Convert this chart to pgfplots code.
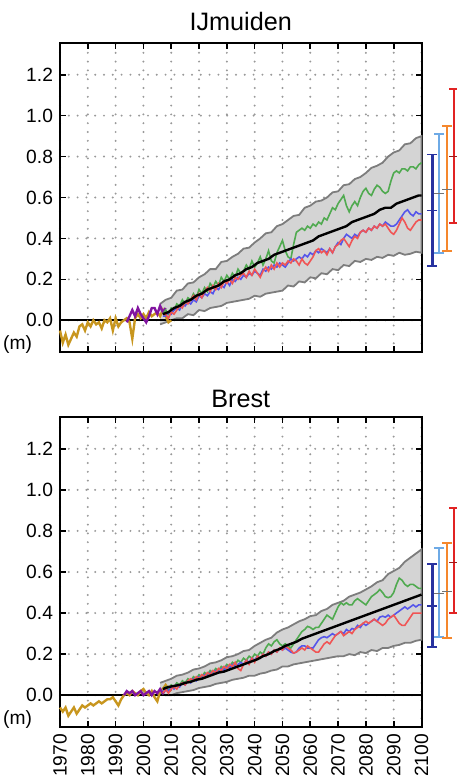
\documentclass[border=0pt]{standalone}
\usepackage{pgfplots}
\pgfplotsset{compat=1.18}
\usepackage{pgfplotstable}
\usepackage{fontspec}
\setmainfont{Liberation Sans}

\definecolor{obsgold}{RGB}{200,150,30}
\definecolor{altpurple}{RGB}{130,20,160}
\definecolor{pgreen}{RGB}{80,170,80}
\definecolor{pblue}{RGB}{85,85,235}
\definecolor{pred}{RGB}{240,85,85}
\definecolor{bandfill}{RGB}{212,212,212}
\definecolor{bandedge}{RGB}{125,125,125}
\definecolor{ebdark}{RGB}{40,50,160}
\definecolor{eblight}{RGB}{110,170,230}
\definecolor{eborange}{RGB}{245,135,45}
\definecolor{ebred}{RGB}{225,35,35}

% ---------------- IJmuiden ----------------
\pgfplotstableread{
year val
1970 -0.05
1971 -0.11
1972 -0.07
1973 -0.12
1974 -0.09
1975 -0.06
1976 -0.08
1977 -0.03
1978 -0.02
1979 -0.05
1980 -0.01
1981 -0.03
1982 0.00
1983 -0.02
1984 -0.01
1985 -0.04
1986 0.00
1987 -0.01
1988 0.01
1989 -0.05
1990 0.01
1991 -0.03
1992 -0.01
1993 0.00
1994 0.01
1995 -0.01
1996 -0.09
1997 0.01
1998 0.03
1999 0.01
2000 0.03
2001 0.01
2002 0.04
2003 0.02
2004 0.03
2005 0.04
2006 0.02
2007 0.05
2008 0.02
2009 -0.01
2010 0.00
}\obsA
\pgfplotstableread{
year val
1994 -0.01
1995 0.02
1996 0.05
1997 0.02
1998 0.06
1999 0.03
2000 0.01
2001 -0.01
2002 0.02
2003 0.06
2004 0.06
2005 0.03
2006 0.07
2007 0.04
2008 0.06
}\altA
% likely-range envelope: upper edge forward, lower edge backward
\pgfplotstableread{
year val
2006 0.08
2008 0.10
2010 0.11
2012 0.145
2014 0.15
2016 0.18
2018 0.185
2020 0.21
2022 0.225
2024 0.25
2026 0.25
2028 0.285
2030 0.29
2032 0.31
2034 0.325
2036 0.35
2038 0.355
2040 0.38
2042 0.40
2044 0.425
2046 0.43
2048 0.46
2050 0.47
2052 0.49
2054 0.51
2056 0.515
2058 0.55
2060 0.56
2062 0.58
2064 0.585
2066 0.60
2068 0.625
2070 0.63
2072 0.66
2074 0.665
2076 0.69
2078 0.70
2080 0.72
2082 0.745
2084 0.755
2086 0.77
2088 0.80
2090 0.82
2092 0.83
2094 0.86
2096 0.865
2098 0.89
2100 0.90
2100 0.33
2098 0.335
2096 0.325
2094 0.32
2092 0.33
2090 0.315
2088 0.32
2086 0.305
2084 0.31
2082 0.295
2080 0.30
2078 0.285
2076 0.29
2074 0.265
2072 0.27
2070 0.245
2068 0.25
2066 0.225
2064 0.23
2062 0.205
2060 0.21
2058 0.185
2056 0.19
2054 0.165
2052 0.17
2050 0.145
2048 0.14
2046 0.135
2044 0.13
2042 0.115
2040 0.12
2038 0.105
2036 0.10
2034 0.095
2032 0.09
2030 0.085
2028 0.07
2026 0.065
2024 0.06
2022 0.045
2020 0.05
2018 0.025
2016 0.03
2014 0.01
2012 0.01
2010 0.00
2008 -0.01
2006 -0.02
}\bandA
\pgfplotstableread{
year val
2007 0.03
2009 0.04
2011 0.06
2013 0.07
2015 0.09
2017 0.10
2019 0.12
2021 0.13
2023 0.15
2025 0.16
2027 0.17
2029 0.19
2031 0.20
2033 0.22
2035 0.23
2037 0.25
2039 0.26
2041 0.28
2043 0.29
2045 0.30
2047 0.32
2049 0.33
2051 0.34
2053 0.35
2055 0.36
2057 0.37
2059 0.38
2061 0.39
2063 0.41
2065 0.42
2067 0.43
2069 0.44
2071 0.45
2073 0.46
2075 0.48
2077 0.49
2079 0.50
2081 0.51
2083 0.52
2085 0.54
2087 0.55
2089 0.55
2091 0.57
2093 0.58
2095 0.59
2097 0.60
2099 0.61
2100 0.61
}\meanA
\pgfplotstableread{
year g b r
2007 0.03 0.02 0.03
2008 0.05 0.02 0.03
2009 0.03 0.04 0.01
2010 0.06 0.03 0.04
2011 0.05 0.05 0.03
2012 0.08 0.06 0.05
2013 0.07 0.05 0.07
2014 0.10 0.08 0.06
2015 0.08 0.07 0.09
2016 0.11 0.09 0.08
2017 0.10 0.08 0.10
2018 0.13 0.10 0.12
2019 0.11 0.09 0.10
2020 0.15 0.12 0.13
2021 0.13 0.11 0.11
2022 0.16 0.13 0.14
2023 0.14 0.12 0.16
2024 0.18 0.14 0.14
2025 0.16 0.13 0.17
2026 0.19 0.16 0.15
2027 0.17 0.15 0.18
2028 0.21 0.17 0.16
2029 0.19 0.16 0.19
2030 0.22 0.19 0.18
2031 0.20 0.17 0.20
2032 0.23 0.20 0.18
2033 0.21 0.19 0.21
2034 0.25 0.21 0.20
2035 0.23 0.20 0.22
2036 0.24 0.22 0.23
2037 0.27 0.21 0.21
2038 0.25 0.23 0.24
2039 0.29 0.22 0.22
2040 0.26 0.24 0.25
2041 0.28 0.23 0.23
2042 0.31 0.22 0.21
2043 0.27 0.25 0.24
2044 0.30 0.24 0.26
2045 0.34 0.26 0.24
2046 0.29 0.25 0.27
2047 0.28 0.27 0.25
2048 0.33 0.26 0.28
2049 0.36 0.28 0.26
2050 0.39 0.27 0.28
2051 0.34 0.26 0.27
2052 0.31 0.28 0.29
2053 0.30 0.30 0.28
2054 0.37 0.29 0.30
2055 0.43 0.30 0.29
2056 0.44 0.31 0.27
2057 0.45 0.30 0.30
2058 0.44 0.32 0.28
2059 0.46 0.31 0.27
2060 0.45 0.33 0.29
2061 0.47 0.32 0.31
2062 0.46 0.34 0.34
2063 0.48 0.33 0.35
2064 0.47 0.35 0.33
2065 0.50 0.34 0.34
2066 0.49 0.33 0.32
2067 0.52 0.35 0.35
2068 0.55 0.33 0.33
2069 0.54 0.36 0.36
2070 0.57 0.38 0.37
2071 0.59 0.37 0.39
2072 0.61 0.40 0.40
2073 0.56 0.42 0.38
2074 0.53 0.41 0.36
2075 0.56 0.40 0.39
2076 0.58 0.42 0.41
2077 0.56 0.41 0.40
2078 0.60 0.43 0.43
2079 0.63 0.44 0.44
2080 0.645 0.43 0.43
2081 0.62 0.45 0.45
2082 0.61 0.44 0.44
2083 0.64 0.46 0.46
2084 0.66 0.45 0.45
2085 0.65 0.47 0.47
2086 0.63 0.46 0.46
2087 0.62 0.48 0.47
2088 0.63 0.47 0.45
2089 0.68 0.46 0.43
2090 0.72 0.46 0.42
2091 0.73 0.47 0.44
2092 0.72 0.49 0.47
2093 0.74 0.51 0.50
2094 0.74 0.53 0.48
2095 0.73 0.54 0.45
2096 0.75 0.52 0.44
2097 0.75 0.51 0.46
2098 0.74 0.53 0.48
2099 0.76 0.52 0.49
2100 0.77 0.52 0.49
}\projA

% ---------------- Brest ----------------
\pgfplotstableread{
year val
1970 -0.06
1971 -0.08
1972 -0.06
1973 -0.10
1974 -0.08
1975 -0.06
1976 -0.09
1977 -0.07
1978 -0.05
1979 -0.06
1980 -0.05
1981 -0.04
1982 -0.05
1983 -0.04
1984 -0.03
1985 -0.04
1986 -0.03
1987 -0.02
1988 -0.02
1989 -0.01
1990 -0.03
1991 -0.05
1992 -0.02
1993 0.00
1994 0.01
1995 0.00
1996 0.02
1997 0.01
1998 0.00
1999 0.02
2000 0.03
2001 0.01
2002 0.00
2003 0.02
2004 -0.01
2005 -0.03
2006 0.02
2007 0.03
2008 0.05
2009 0.03
2010 0.02
}\obsB
\pgfplotstableread{
year val
1993 0.00
1994 0.02
1995 0.01
1996 0.02
1997 0.00
1998 0.01
1999 0.02
2000 0.00
2001 0.01
2002 0.02
2003 0.00
2004 0.02
2005 0.01
2006 0.03
2007 0.01
2008 0.03
2009 0.02
2010 0.03
}\altB
\pgfplotstableread{
year val
2006 0.06
2008 0.07
2010 0.08
2012 0.095
2014 0.10
2016 0.11
2018 0.125
2020 0.13
2022 0.14
2024 0.155
2026 0.16
2028 0.17
2030 0.185
2032 0.19
2034 0.20
2036 0.215
2038 0.22
2040 0.24
2042 0.255
2044 0.27
2046 0.28
2048 0.305
2050 0.32
2052 0.33
2054 0.345
2056 0.36
2058 0.37
2060 0.385
2062 0.39
2064 0.41
2066 0.42
2068 0.44
2070 0.45
2072 0.46
2074 0.48
2076 0.49
2078 0.50
2080 0.515
2082 0.53
2084 0.55
2086 0.56
2088 0.59
2090 0.605
2092 0.62
2094 0.65
2096 0.67
2098 0.69
2100 0.71
2100 0.27
2098 0.265
2096 0.255
2094 0.255
2092 0.245
2090 0.24
2088 0.23
2086 0.23
2084 0.215
2082 0.22
2080 0.205
2078 0.21
2076 0.195
2074 0.20
2072 0.19
2070 0.19
2068 0.185
2066 0.18
2064 0.175
2062 0.17
2060 0.165
2058 0.16
2056 0.155
2054 0.15
2052 0.14
2050 0.14
2048 0.125
2046 0.12
2044 0.11
2042 0.105
2040 0.095
2038 0.095
2036 0.085
2034 0.08
2032 0.075
2030 0.065
2028 0.06
2026 0.055
2024 0.045
2022 0.04
2020 0.035
2018 0.025
2016 0.02
2014 0.015
2012 0.01
2010 0.00
2008 0.00
2006 0.01
}\bandB
\pgfplotstableread{
year val
2007 0.03
2009 0.04
2011 0.045
2013 0.05
2015 0.06
2017 0.065
2019 0.075
2021 0.08
2023 0.09
2025 0.10
2027 0.11
2029 0.115
2031 0.125
2033 0.135
2035 0.145
2037 0.155
2039 0.165
2041 0.175
2043 0.19
2045 0.20
2047 0.215
2049 0.225
2051 0.24
2053 0.25
2055 0.26
2057 0.275
2059 0.285
2061 0.295
2063 0.305
2065 0.315
2067 0.325
2069 0.335
2071 0.345
2073 0.355
2075 0.365
2077 0.375
2079 0.385
2081 0.395
2083 0.405
2085 0.415
2087 0.425
2089 0.435
2091 0.445
2093 0.455
2095 0.465
2097 0.475
2099 0.485
2100 0.49
}\meanB
\pgfplotstableread{
year g b r
2007 0.02 0.02 0.01
2008 0.04 0.03 0.03
2009 0.03 0.02 0.01
2010 0.05 0.04 0.03
2011 0.04 0.03 0.04
2012 0.06 0.05 0.03
2013 0.05 0.04 0.05
2014 0.07 0.06 0.06
2015 0.06 0.05 0.05
2016 0.08 0.07 0.07
2017 0.07 0.06 0.08
2018 0.09 0.08 0.07
2019 0.08 0.07 0.09
2020 0.10 0.09 0.08
2021 0.09 0.08 0.10
2022 0.11 0.10 0.09
2023 0.10 0.09 0.11
2024 0.12 0.11 0.10
2025 0.11 0.10 0.12
2026 0.13 0.12 0.11
2027 0.12 0.11 0.13
2028 0.14 0.13 0.12
2029 0.13 0.12 0.14
2030 0.15 0.14 0.13
2031 0.14 0.13 0.15
2032 0.16 0.15 0.14
2033 0.15 0.14 0.16
2034 0.17 0.15 0.13
2035 0.16 0.16 0.12
2036 0.18 0.15 0.15
2037 0.17 0.17 0.17
2038 0.19 0.16 0.15
2039 0.18 0.18 0.18
2040 0.20 0.17 0.16
2041 0.19 0.19 0.19
2042 0.21 0.18 0.18
2043 0.20 0.20 0.20
2044 0.23 0.19 0.19
2045 0.25 0.21 0.21
2046 0.24 0.20 0.20
2047 0.26 0.22 0.22
2048 0.27 0.21 0.21
2049 0.25 0.23 0.23
2050 0.24 0.22 0.22
2051 0.25 0.23 0.24
2052 0.24 0.22 0.23
2053 0.23 0.21 0.22
2054 0.25 0.205 0.205
2055 0.27 0.21 0.21
2056 0.29 0.23 0.22
2057 0.31 0.24 0.23
2058 0.32 0.24 0.22
2059 0.335 0.23 0.24
2060 0.33 0.23 0.23
2061 0.32 0.23 0.22
2062 0.33 0.25 0.21
2063 0.33 0.27 0.21
2064 0.35 0.28 0.23
2065 0.37 0.285 0.25
2066 0.39 0.28 0.26
2067 0.38 0.29 0.25
2068 0.37 0.30 0.27
2069 0.40 0.29 0.29
2070 0.43 0.30 0.30
2071 0.45 0.31 0.31
2072 0.44 0.30 0.29
2073 0.45 0.32 0.30
2074 0.44 0.31 0.31
2075 0.44 0.325 0.30
2076 0.46 0.32 0.32
2077 0.47 0.34 0.33
2078 0.46 0.33 0.34
2079 0.45 0.35 0.35
2080 0.44 0.34 0.36
2081 0.46 0.35 0.35
2082 0.48 0.36 0.36
2083 0.49 0.37 0.37
2084 0.50 0.36 0.36
2085 0.515 0.38 0.35
2086 0.50 0.385 0.34
2087 0.48 0.38 0.35
2088 0.475 0.39 0.37
2089 0.48 0.38 0.38
2090 0.50 0.39 0.39
2091 0.54 0.40 0.37
2092 0.57 0.41 0.35
2093 0.56 0.42 0.34
2094 0.54 0.43 0.34
2095 0.53 0.42 0.36
2096 0.54 0.43 0.38
2097 0.54 0.44 0.40
2098 0.53 0.43 0.40
2099 0.52 0.44 0.40
2100 0.52 0.44 0.40
}\projB

\pgfplotsset{
  slr/.style={
    scale only axis, width=180.75pt,
    xmin=1970, xmax=2100, ymin=-0.155, ymax=1.355,
    xtick={1970,1980,...,2100},
    ytick={0,0.2,0.4,0.6,0.8,1.0,1.2},
    grid=major,
    major grid style={gray!80, line width=1.1pt, line cap=round, dash pattern=on 0pt off 4.4pt},
    tick align=inside, major tick length=3pt,
    axis line style={line width=1pt},
    major tick style={black, line width=0.8pt},
    xticklabel style={/pgf/number format/1000 sep={}},
    yticklabel style={/pgf/number format/fixed, /pgf/number format/fixed zerofill, /pgf/number format/precision=1},
    /pgf/number format/assume math mode=true,
    ticklabel style={font=\fontsize{9.6}{11}\selectfont},
    clip=false,
  },
  bandedgestyle/.style={draw=bandedge, line width=0.9pt},
  sser/.style={line width=0.8pt},
  rangebar/.style={mark=-, mark size=2.5pt, mark options={solid, line width=0.9pt}},
  midmark/.style={only marks, mark=-, mark size=2.5pt, mark options={line width=0.7pt}},
}

\begin{document}
\begin{tikzpicture}
\useasboundingbox (0,0) rectangle (228pt,-389.5pt);

% ===== IJmuiden =====
\begin{axis}[slr, height=154.5pt, at={(30pt,-176pt)}, anchor=south west,
  xticklabels={},
  title={IJmuiden},
  title style={font=\fontsize{12.6}{14}\selectfont, at={(0.5,1)}, anchor=base, yshift=0pt}]
  \addplot[fill=bandfill, bandedgestyle] table[x=year, y=val] {\bandA};
  \addplot[black, line width=1pt] coordinates {(1970,0) (2100,0)};
  \addplot[obsgold, line width=1.2pt] table[x=year, y=val] {\obsA};
  \addplot[altpurple, line width=1.2pt] table[x=year, y=val] {\altA};
  \addplot[pgreen, sser] table[x=year, y=g] {\projA};
  \addplot[pblue, sser] table[x=year, y=b] {\projA};
  \addplot[pred, sser] table[x=year, y=r] {\projA};
  \addplot[black, line width=1.2pt] table[x=year, y=val] {\meanA};
  % likely ranges at 2100
  \addplot[ebdark, line width=1.5pt, rangebar] coordinates {(2103.8,0.265) (2103.8,0.81)};
  \addplot[ebdark, midmark] coordinates {(2103.8,0.535)};
  \addplot[eblight, line width=1pt, rangebar] coordinates {(2106.3,0.33) (2106.3,0.91)};
  \addplot[black!55, midmark] coordinates {(2106.3,0.62)};
  \addplot[eborange, line width=1pt, rangebar] coordinates {(2109.2,0.34) (2109.2,0.95)};
  \addplot[black!55, midmark] coordinates {(2109.2,0.64)};
  \addplot[ebred, line width=1pt, rangebar] coordinates {(2111.6,0.475) (2111.6,1.13)};
  \addplot[ebred!70!black, midmark] coordinates {(2111.6,0.80)};
  \node[anchor=east, font=\fontsize{9.6}{11}\selectfont, xshift=-10.5pt] at (axis cs:1970,-0.12) {(m)};
\end{axis}

% ===== Brest =====
\begin{axis}[slr, height=155pt, at={(30pt,-363.5pt)}, anchor=south west,
  xticklabel style={rotate=90, anchor=east},
  title={Brest},
  title style={font=\fontsize{12.6}{14}\selectfont, at={(0.5,1)}, anchor=base, yshift=-1pt}]
  \addplot[fill=bandfill, bandedgestyle] table[x=year, y=val] {\bandB};
  \addplot[black, line width=1pt] coordinates {(1970,0) (2100,0)};
  \addplot[obsgold, line width=1.2pt] table[x=year, y=val] {\obsB};
  \addplot[altpurple, line width=1.2pt] table[x=year, y=val] {\altB};
  \addplot[pgreen, sser] table[x=year, y=g] {\projB};
  \addplot[pblue, sser] table[x=year, y=b] {\projB};
  \addplot[pred, sser] table[x=year, y=r] {\projB};
  \addplot[black, line width=1.2pt] table[x=year, y=val] {\meanB};
  \addplot[ebdark, line width=1.5pt, rangebar] coordinates {(2103.8,0.235) (2103.8,0.64)};
  \addplot[ebdark, midmark] coordinates {(2103.8,0.435)};
  \addplot[eblight, line width=1pt, rangebar] coordinates {(2106.3,0.285) (2106.3,0.715)};
  \addplot[black!55, midmark] coordinates {(2106.3,0.495)};
  \addplot[eborange, line width=1pt, rangebar] coordinates {(2109.2,0.28) (2109.2,0.74)};
  \addplot[black!55, midmark] coordinates {(2109.2,0.505)};
  \addplot[ebred, line width=1pt, rangebar] coordinates {(2111.6,0.40) (2111.6,0.91)};
  \addplot[ebred!70!black, midmark] coordinates {(2111.6,0.645)};
  \node[anchor=east, font=\fontsize{9.6}{11}\selectfont, xshift=-10.5pt] at (axis cs:1970,-0.12) {(m)};
\end{axis}
\end{tikzpicture}
\end{document}
